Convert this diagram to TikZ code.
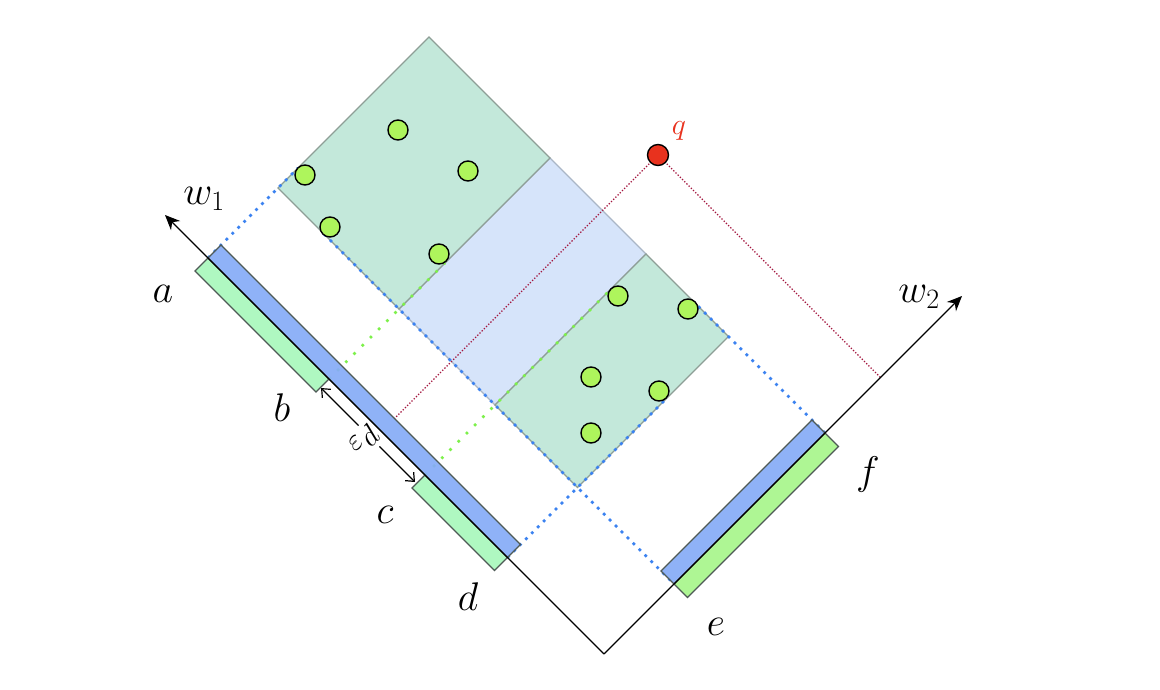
\RequirePackage{fix-cm}
\documentclass[tikz,border=0pt]{standalone}
\usetikzlibrary{arrows.meta}
\definecolor{bandfill}{HTML}{D6E4FA}
\definecolor{banddraw}{HTML}{AAB6C6}
\definecolor{clusterfill}{HTML}{C3E8DA}
\definecolor{clusterdraw}{HTML}{8E9E96}
\definecolor{barblue}{HTML}{86ACF6}
\definecolor{bardraw}{HTML}{4E5A56}
\definecolor{bargreenA}{HTML}{A9F8BC}
\definecolor{bargreenB}{HTML}{A8F58C}
\definecolor{pointfill}{HTML}{AEF55C}
\definecolor{qred}{HTML}{E8321E}
\definecolor{dotblue}{HTML}{3B82F0}
\definecolor{dotgreen}{HTML}{7DF04A}
\definecolor{dotred}{HTML}{A3173F}
\begin{document}
\begin{tikzpicture}[x=1pt,y=-1pt,
  bandbox/.style={fill=bandfill, draw=banddraw, line width=1.1pt},
  clusterbox/.style={fill=clusterfill, draw=clusterdraw, line width=1.2pt},
  bluebar/.style={fill=barblue, fill opacity=0.93, draw=bardraw, line width=1.2pt},
  greenbarA/.style={fill=bargreenA, fill opacity=0.93, draw=bardraw, line width=1.2pt},
  greenbarB/.style={fill=bargreenB, fill opacity=0.93, draw=bardraw, line width=1.2pt},
  bluedots/.style={draw=dotblue, line width=2.8pt, dash pattern=on 2.8pt off 5.6pt},
  greendots/.style={draw=dotgreen, line width=2.6pt, dash pattern=on 2.6pt off 9pt},
  reddots/.style={draw=dotred, line width=1.3pt, dash pattern=on 1.3pt off 1.8pt},
  axisline/.style={draw=black, line width=1.3pt},
  axisarrow/.style={axisline, -{Stealth[length=15pt,width=13pt]}},
  epsarrow/.style={draw=black, line width=1.2pt,
     arrows={Straight Barb[length=7pt,width=12pt]-Straight Barb[length=7pt,width=12pt]}},
  ptnode/.style={circle, draw=black, line width=1.4pt, fill=pointfill, minimum size=20pt, inner sep=0pt},
  qnode/.style={circle, draw=black, line width=1.4pt, fill=qred, minimum size=21pt, inner sep=0pt},
  lab/.style={font=\fontsize{40}{48}\selectfont, inner sep=0pt},
  smalllab/.style={font=\fontsize{30}{36}\selectfont, inner sep=0pt}]
\useasboundingbox (0,0) rectangle (1160,690);

% frame along the two axes: first value along w1, second along w2
\begin{scope}[shift={(604,654)}, x={(-0.5pt,0.5pt)}, y={(0.5pt,0.5pt)}]
  \coordinate (O) at (0,0);
  \coordinate (W1) at (878,0);
  \coordinate (W2) at (0,716);
  % clusters
  \path[bandbox] (358,140) -- (550,140) -- (550,442) -- (358,442) -- cycle;
  \path[clusterbox] (550,140) -- (792,140) -- (792,442) -- (550,442) -- cycle;
  \path[clusterbox] (193,140) -- (358,140) -- (358,442) -- (193,442) -- cycle;
  % projection lines
  \coordinate (b1a) at (792,0);   \coordinate (b1b) at (792,180);
  \coordinate (b2a) at (700,140); \coordinate (b2b) at (0,140);
  \coordinate (b3a) at (193,0);   \coordinate (b3b) at (193,316);
  \coordinate (b4a) at (0,442);   \coordinate (b4b) at (258,442);
  \coordinate (g1a) at (550,0);   \coordinate (g1b) at (550,232);
  \coordinate (g2a) at (358,0);   \coordinate (g2b) at (358,370);
  \coordinate (qq) at (445,553);
  \coordinate (r1) at (445,26);   \coordinate (r2) at (0,553);
  \draw[bluedots] (b1a) -- (b1b);
  \draw[bluedots] (b2a) -- (b2b);
  \draw[bluedots] (b3a) -- (b3b);
  \draw[bluedots] (b4a) -- (b4b);
  \draw[greendots] (g1a) -- (g1b);
  \draw[greendots] (g2a) -- (g2b);
  \draw[reddots] (qq) -- (r1);
  \draw[reddots] (qq) -- (r2);
  % bars
  \path[greenbarA] (550,0) -- (792,0) -- (792,-26) -- (550,-26) -- cycle;
  \path[greenbarA] (193,0) -- (358,0) -- (358,-26) -- (193,-26) -- cycle;
  \path[bluebar] (193,0) -- (792,0) -- (792,26) -- (193,26) -- cycle;
  \path[greenbarB] (0,140) -- (0,442) -- (-27,442) -- (-27,140) -- cycle;
  \path[bluebar] (0,140) -- (0,442) -- (26,442) -- (26,140) -- cycle;
  % epsilon arrow ends
  \coordinate (ea) at (549,-17);
  \coordinate (eb) at (361,-17);
\end{scope}

% axes
\draw[axisarrow] (O) -- (W1);
\draw[axisarrow] (O) -- (W2);

% epsilon_d
\draw[epsarrow] (ea) -- (eb);
\node[smalllab, fill=white, rotate=45, inner xsep=1pt, inner ysep=4pt] (epsl) at (364,441) {$\varepsilon$\raisebox{-0.27em}{$d$}};

% points
\node[ptnode] (p1) at (305,175) {};
\node[ptnode] (p2) at (398,130) {};
\node[ptnode] (p3) at (468,171) {};
\node[ptnode] (p4) at (330,227) {};
\node[ptnode] (p5) at (439,254) {};
\node[ptnode] (p6) at (618,296) {};
\node[ptnode] (p7) at (688,309) {};
\node[ptnode] (p8) at (591,377) {};
\node[ptnode] (p9) at (659,391) {};
\node[ptnode] (p10) at (591,433) {};
\node[qnode] (q) at (658,155) {};

% labels
\node[lab] (lw1) at (204,199) {$w_1$};
\node[lab] (lw2) at (919,297) {$w_2$};
\node[lab] (la) at (163,294) {$a$};
\node[lab] (lb) at (282,408) {$b$};
\node[lab] (lc) at (385,515) {$c$};
\node[lab] (ld) at (468,597) {$d$};
\node[lab] (le) at (716,627) {$e$};
\node[lab] (lf) at (868,474) {$f$};
\node[smalllab, text=qred] (lq) at (679,131) {$q$};
\end{tikzpicture}
\end{document}
